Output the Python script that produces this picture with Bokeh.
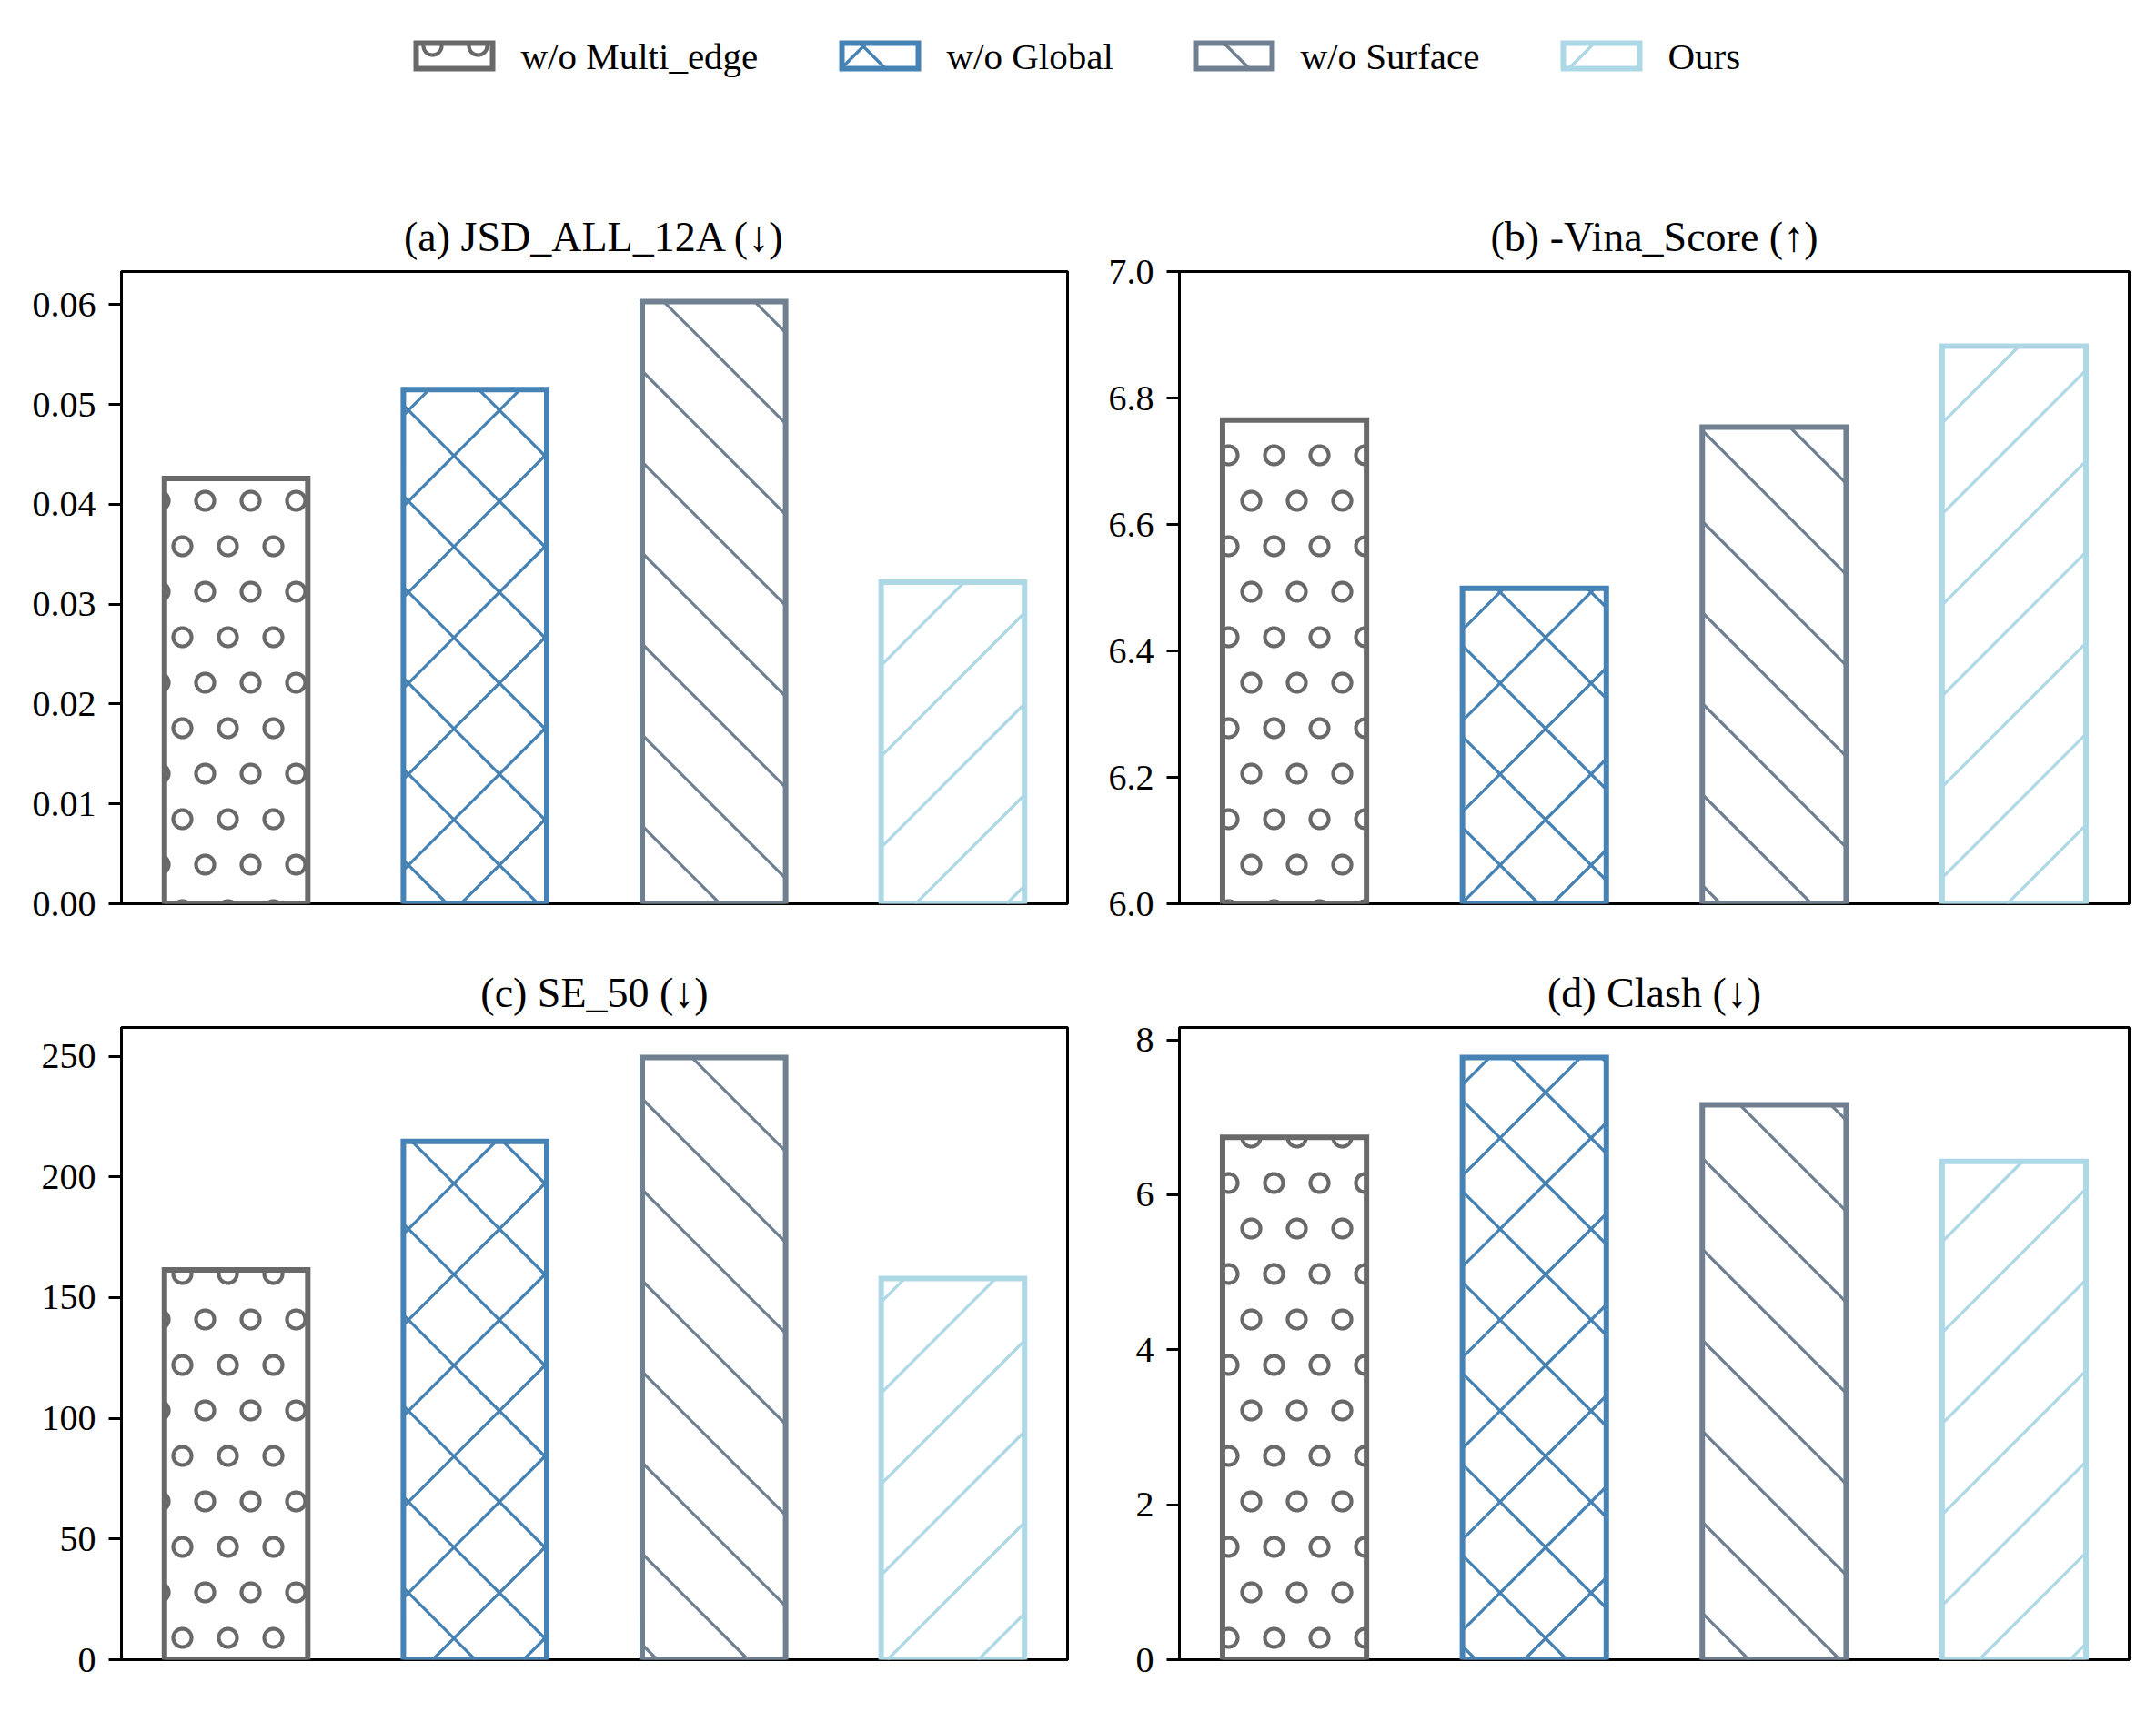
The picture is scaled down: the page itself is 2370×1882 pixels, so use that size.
import math
from bokeh.plotting import figure
from bokeh.layouts import column, row
from bokeh.models import Range1d, FixedTicker, NumeralTickFormatter
from bokeh.core.properties import value
from bokeh.embed import file_html
from bokeh.resources import INLINE

# ---------------- data ----------------
methods = ["w/o Multi_edge", "w/o Global", "w/o Surface", "Ours"]
positions = [0, 1, 2, 3]
jsd_all_12a = [0.0426, 0.0515, 0.0603, 0.0322]
vina_score = [6.765, 6.499, 6.754, 6.882]
se_50 = [161.5, 214.7, 249.4, 157.9]
clash = [6.74, 7.77, 7.16, 6.43]

titles = ["(a) JSD_ALL_12A (↓)", "(b) -Vina_Score (↑)", "(c) SE_50 (↓)", "(d) Clash (↓)"]
ticks_a = [0.00, 0.01, 0.02, 0.03, 0.04, 0.05, 0.06]
ticks_b = [6.0, 6.2, 6.4, 6.6, 6.8, 7.0]
ticks_c = [0, 50, 100, 150, 200, 250]
ticks_d = [0, 2, 4, 6, 8]
formats = ["0.00", "0.0", "0", "0"]
vina_limits = [6.0, 7.0]

# ---------------- styles ----------------
colors = ["#696969", "#4682B4", "#708090", "#ADD8E6"]
hatch_kinds = ["ring", "cross", "back", "fwd"]
FONT = "Liberation Serif"
PAGE_H = 1882
BAR_W = 0.6
X_RANGE = (-0.48, 3.48)
HATCH_STEP = 100.0          # px between hatch lines (page-anchored, like matplotlib)
PHASE_FWD = 83.0            # "/" lines:  v - u = PHASE_FWD (mod step)
PHASE_BACK = 80.0           # "\" lines:  v + u = PHASE_BACK (mod step)
RING_STEP = 50.0
RING_ROW0 = 32.0
RING_R = 10.0
RING_W = 4.2
LINE_W = 3.3
EDGE_W = 6


def diag_segments(ul, ur, vb, vt, sign, b_ref, step):
    """45-degree hatch lines (page pixel space, y up) clipped to a rectangle."""
    if sign > 0:
        bmin, bmax = vb - ur, vt - ul
    else:
        bmin, bmax = vb + ul, vt + ur
    k0 = math.ceil((bmin - b_ref) / step)
    k1 = math.floor((bmax - b_ref) / step)
    segs = []
    for k in range(k0, k1 + 1):
        b = b_ref + k * step
        if sign > 0:
            u0, u1 = max(ul, vb - b), min(ur, vt - b)
        else:
            u0, u1 = max(ul, b - vt), min(ur, b - vb)
        if u1 - u0 > 0.5:
            segs.append((u0, sign * u0 + b, u1, sign * u1 + b))
    return segs


def ring_paths(ul, ur, vb, vt, n=64):
    """Staggered ring hatch (page pixel space) clipped to a rectangle."""
    r, step = RING_R, RING_STEP
    paths = []
    jmin = math.ceil((vb - r - RING_ROW0) / step)
    jmax = math.floor((vt + r - RING_ROW0) / step)
    for j in range(jmin, jmax + 1):
        v = RING_ROW0 + j * step
        uph = step / 2 if j % 2 == 0 else 0.0
        kmin = math.ceil((ul - r - uph) / step)
        kmax = math.floor((ur + r - uph) / step)
        for k in range(kmin, kmax + 1):
            u = uph + k * step
            pts = [(u + r * math.cos(2 * math.pi * t / n), v + r * math.sin(2 * math.pi * t / n)) for t in range(n)]
            inside = [ul <= pu <= ur and vb <= pv <= vt for pu, pv in pts]
            if all(inside):
                paths.append(pts + [pts[0]])
                continue
            if not any(inside):
                continue
            start = inside.index(False)
            run = []
            for t in range(1, n + 1):
                idx = (start + t) % n
                if inside[idx]:
                    run.append(pts[idx])
                else:
                    if len(run) > 1:
                        paths.append(run)
                    run = []
            if len(run) > 1:
                paths.append(run)
    return paths


def draw_hatch(p, i, rect, fx, fy):
    """rect in page px (y up); fx/fy map page px back to the plot's data units."""
    ul, ur, vb, vt = rect
    color = colors[i]
    kind = hatch_kinds[i]
    if kind == "ring":
        paths = ring_paths(ul, ur, vb, vt)
        if paths:
            p.multi_line(xs=[[fx(pt[0]) for pt in path] for path in paths],
                         ys=[[fy(pt[1]) for pt in path] for path in paths],
                         line_color=color, line_width=RING_W)
        return
    fams = {"cross": [(1, PHASE_FWD), (-1, PHASE_BACK)], "back": [(-1, PHASE_BACK)], "fwd": [(1, PHASE_FWD)]}[kind]
    segs = []
    for s, ph in fams:
        segs += diag_segments(ul, ur, vb, vt, s, ph, HATCH_STEP)
    if segs:
        p.segment(x0=[fx(s[0]) for s in segs], y0=[fy(s[1]) for s in segs],
                  x1=[fx(s[2]) for s in segs], y1=[fy(s[3]) for s in segs],
                  line_color=color, line_width=LINE_W)


def panel(title, vals, ticks, fmt, y0, y1, fw, fh, mb_l, mb_r, mb_t, mb_b, page_left, page_top):
    p = figure(
        width=mb_l + fw + mb_r, height=mb_t + fh + mb_b,
        x_range=Range1d(*X_RANGE), y_range=Range1d(y0, y1),
        x_axis_location=None, toolbar_location=None, output_backend="svg",
        min_border_left=mb_l, min_border_right=mb_r,
        min_border_top=mb_t, min_border_bottom=mb_b,
        title=title,
    )
    sx = fw / (X_RANGE[1] - X_RANGE[0])
    sy = fh / (y1 - y0)
    L = page_left + mb_l                        # frame left on page
    V0 = PAGE_H - (page_top + mb_t + fh)        # frame bottom on page (y up)

    def U(x):
        return L + (x - X_RANGE[0]) * sx

    def V(y):
        return V0 + (y - y0) * sy

    def fx(u):
        return X_RANGE[0] + (u - L) / sx

    def fy(v):
        return y0 + (v - V0) / sy

    for i, (xc, val) in enumerate(zip(positions, vals)):
        p.vbar(x=[xc], top=[val], bottom=0, width=BAR_W, fill_color="white", line_color=None)
        rect = (U(xc - BAR_W / 2), U(xc + BAR_W / 2), V(max(0.0, y0)), V(val))
        draw_hatch(p, i, rect, fx, fy)
        p.vbar(x=[xc], top=[val], bottom=0, width=BAR_W, fill_color=None,
               line_color=colors[i], line_width=EDGE_W, line_join="miter")
    p.grid.visible = False
    p.outline_line_color = "black"
    p.outline_line_width = 3
    p.outline_line_alpha = 1.0
    ax = p.yaxis[0]
    ax.ticker = FixedTicker(ticks=ticks)
    ax.formatter = NumeralTickFormatter(format=fmt)
    ax.major_label_text_font = FONT
    ax.major_label_text_font_size = "40px"
    ax.major_label_text_color = "black"
    ax.major_tick_out = 14
    ax.major_tick_in = 0
    ax.minor_tick_out = 0
    ax.minor_tick_in = 0
    ax.axis_line_width = 3
    ax.axis_line_color = "black"
    ax.major_tick_line_width = 3
    ax.major_tick_line_color = "black"
    ax.major_label_standoff = 14
    p.title.text_font = FONT
    p.title.text_font_size = "46px"
    p.title.text_font_style = "normal"
    p.title.align = "center"
    p.title.text_color = "black"
    p.title.standoff = 26
    p.background_fill_color = "white"
    p.border_fill_color = "white"
    return p


LEG_W, LEG_H = 2370, 200
ROW1_H = 98 + 695 + 40
pa = panel(titles[0], jsd_all_12a, ticks_a, formats[0], 0, max(jsd_all_12a) * 1.05,
           1040, 695, 133, 19, 98, 40, 0, LEG_H)
pb = panel(titles[1], vina_score, ticks_b, formats[1], vina_limits[0], vina_limits[1],
           1044, 695, 104, 30, 98, 40, 1192, LEG_H)
pc = panel(titles[2], se_50, ticks_c, formats[2], 0, max(se_50) * 1.05,
           1040, 695, 133, 19, 96, 58, 0, LEG_H + ROW1_H)
pd = panel(titles[3], clash, ticks_d, formats[3], 0, max(clash) * 1.05,
           1044, 695, 104, 30, 96, 58, 1192, LEG_H + ROW1_H)

# ---------------- legend strip (pixel coordinates) ----------------
legend_x = [454, 922, 1311, 1715]      # left edge of each legend patch
pl = figure(width=LEG_W, height=LEG_H, x_range=Range1d(0, LEG_W), y_range=Range1d(0, LEG_H),
            x_axis_location=None, y_axis_location=None, toolbar_location=None,
            output_backend="svg", min_border=0, outline_line_color=None)
pl.grid.visible = False
pl.background_fill_color = "white"
pl.border_fill_color = "white"
LV0 = PAGE_H - LEG_H
for i, lx in enumerate(legend_x):
    ul, ur = lx + 3, lx + 87
    yb, yt = LEG_H - 75, LEG_H - 47
    pl.quad(left=[ul], right=[ur], bottom=[yb], top=[yt], fill_color="white", line_color=None)
    draw_hatch(pl, i, (ul, ur, LV0 + yb, LV0 + yt), lambda u: u, lambda v: v - LV0)
    pl.quad(left=[ul], right=[ur], bottom=[yb], top=[yt], fill_color=None,
            line_color=colors[i], line_width=EDGE_W, line_join="miter")
pl.text(x=[lx + 118 for lx in legend_x], y=[LEG_H - 61] * len(methods), text=methods,
        text_font=value(FONT), text_font_size=value("41px"), text_color="black",
        text_align="left", text_baseline="alphabetic")

layout = column(pl, row(pa, pb), row(pc, pd))

with open("out.html", "w") as f:
    f.write(file_html(layout, INLINE))
